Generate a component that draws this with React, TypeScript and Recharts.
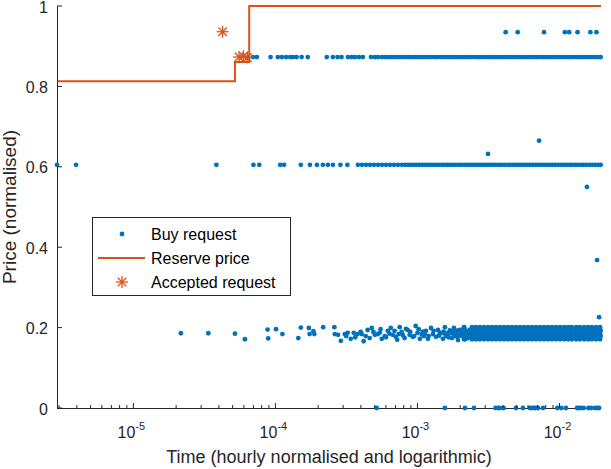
import React from "react";
import { ComposedChart, XAxis, YAxis, Scatter, Line, Legend } from "recharts";

const BLUE = "#0072BD";
const ORANGE = "#D95319";
const AXIS = "#262626";
const FONT = "'Liberation Sans', Arial, Helvetica, sans-serif";

const X_MIN = 2.9e-6;
const X_MAX = 1.96e-2;
const DECADES = [1e-5, 1e-4, 1e-3, 1e-2];
const X_TICKS = [
  3e-6, 4e-6, 5e-6, 6e-6, 7e-6, 8e-6, 9e-6,
  1e-5, 2e-5, 3e-5, 4e-5, 5e-5, 6e-5, 7e-5, 8e-5, 9e-5,
  1e-4, 2e-4, 3e-4, 4e-4, 5e-4, 6e-4, 7e-4, 8e-4, 9e-4,
  1e-3, 2e-3, 3e-3, 4e-3, 5e-3, 6e-3, 7e-3, 8e-3, 9e-3,
  1e-2,
];
const Y_TICKS = [0, 0.2, 0.4, 0.6, 0.8, 1];

// buy requests, grouped by price level
const TIMES_0935 = [4.18e-3, 5.08e-3, 7.78e-3, 1.09e-2, 1.17e-2, 1.34e-2, 1.65e-2, 1.82e-2];
const TIMES_0873 = [
  6.95e-5, 7.41e-5, 9.25e-5, 1.04e-4, 1.11e-4, 1.19e-4, 1.27e-4, 1.33e-4, 1.41e-4, 1.53e-4,
  1.69e-4, 2.3e-4, 2.54e-4, 2.74e-4, 2.92e-4, 3.24e-4, 3.44e-4, 3.63e-4, 3.87e-4, 4.13e-4,
  4.71e-4, 5.02e-4, 5.27e-4, 5.62e-4, 5.9e-4, 6.19e-4, 6.5e-4, 6.83e-4, 7.18e-4, 7.53e-4,
  7.91e-4, 8.3e-4, 8.71e-4, 9.14e-4, 9.6e-4, 1.0e-3, 1.05e-3, 1.1e-3, 1.15e-3, 1.2e-3,
  1.26e-3, 1.32e-3, 1.38e-3, 1.45e-3, 1.52e-3, 1.59e-3, 1.66e-3, 1.74e-3, 1.82e-3, 1.91e-3,
  2.0e-3, 2.09e-3, 2.19e-3, 2.29e-3, 2.4e-3, 2.51e-3, 2.63e-3, 2.75e-3, 2.88e-3, 3.02e-3,
  3.16e-3, 3.31e-3, 3.47e-3, 3.63e-3, 3.8e-3, 3.98e-3, 4.17e-3, 4.37e-3, 4.57e-3, 4.79e-3,
  5.01e-3, 5.25e-3, 5.5e-3, 5.75e-3, 6.03e-3, 6.31e-3, 6.61e-3, 6.92e-3, 7.24e-3, 7.59e-3,
  7.94e-3, 8.32e-3, 8.71e-3, 9.12e-3, 9.55e-3, 1.0e-2, 1.05e-2, 1.1e-2, 1.15e-2, 1.2e-2,
  1.26e-2, 1.32e-2, 1.38e-2, 1.45e-2, 1.51e-2, 1.58e-2, 1.66e-2, 1.74e-2, 1.82e-2, 1.9e-2,
  1.95e-2,
];
const TIMES_0605 = [
  2.9e-6, 3.95e-6, 3.84e-5, 7.0e-5, 7.7e-5, 1.08e-4, 1.15e-4, 1.51e-4, 1.75e-4, 1.96e-4,
  2.16e-4, 2.34e-4, 2.54e-4, 2.87e-4, 3.21e-4, 3.81e-4, 4.07e-4, 4.35e-4, 4.63e-4, 4.94e-4,
  5.28e-4, 5.64e-4, 6.01e-4, 6.41e-4, 6.84e-4, 7.3e-4, 7.78e-4, 8.2e-4, 8.6e-4, 9.0e-4,
  9.4e-4, 9.85e-4, 1.03e-3, 1.08e-3, 1.13e-3, 1.18e-3, 1.24e-3, 1.3e-3, 1.36e-3, 1.42e-3,
  1.49e-3, 1.56e-3, 1.63e-3, 1.71e-3, 1.79e-3, 1.87e-3, 1.96e-3, 2.05e-3, 2.15e-3, 2.25e-3,
  2.36e-3, 2.47e-3, 2.58e-3, 2.7e-3, 2.83e-3, 2.96e-3, 3.1e-3, 3.25e-3, 3.4e-3, 3.56e-3,
  3.73e-3, 3.9e-3, 4.09e-3, 4.28e-3, 4.48e-3, 4.69e-3, 4.91e-3, 5.14e-3, 5.38e-3, 5.64e-3,
  5.9e-3, 6.18e-3, 6.47e-3, 6.78e-3, 7.1e-3, 7.43e-3, 7.78e-3, 8.15e-3, 8.53e-3, 8.93e-3,
  9.35e-3, 9.8e-3, 1.03e-2, 1.07e-2, 1.12e-2, 1.18e-2, 1.23e-2, 1.29e-2, 1.35e-2, 1.42e-2,
  1.48e-2, 1.55e-2, 1.63e-2, 1.7e-2, 1.78e-2, 1.87e-2, 1.95e-2,
];
const TIMES_0 = [
  5.16e-4, 1.56e-3, 2.16e-3, 2.5e-3, 3.55e-3, 3.7e-3, 3.81e-3, 4.04e-3, 4.94e-3, 5.53e-3,
  6.2e-3, 6.36e-3, 6.61e-3, 6.8e-3, 7.06e-3, 7.66e-3, 9.66e-3, 1.03e-2, 1.11e-2, 1.33e-2,
  1.37e-2, 1.41e-2, 1.48e-2, 1.6e-2, 1.67e-2, 1.78e-2, 1.85e-2, 1.9e-2,
];
// low band around 0.18: [time, price]
const BAND_SPARSE = [
  [2.16e-5, 0.186], [3.37e-5, 0.186], [5.19e-5, 0.185], [6.1e-5, 0.171], [8.81e-5, 0.195],
  [8.9e-5, 0.173], [1.01e-4, 0.196], [1.12e-4, 0.184], [1.45e-4, 0.174], [1.51e-4, 0.2],
  [1.72e-4, 0.199], [1.74e-4, 0.184], [1.85e-4, 0.191], [1.88e-4, 0.184], [2.17e-4, 0.201],
  [2.6e-4, 0.201], [2.62e-4, 0.184], [2.76e-4, 0.182], [2.89e-4, 0.167], [3.08e-4, 0.184],
  [3.15e-4, 0.179], [3.23e-4, 0.187], [3.39e-4, 0.172], [3.56e-4, 0.187], [3.65e-4, 0.176],
  [3.79e-4, 0.184], [3.98e-4, 0.189], [4.05e-4, 0.184], [4.18e-4, 0.166], [4.32e-4, 0.179],
  [4.46e-4, 0.194], [4.61e-4, 0.174], [4.77e-4, 0.199], [4.9e-4, 0.189], [5.01e-4, 0.182],
  [5.26e-4, 0.184], [5.43e-4, 0.187], [5.5e-4, 0.196], [5.61e-4, 0.172], [5.89e-4, 0.179],
  [6.0e-4, 0.176], [6.18e-4, 0.192], [6.35e-4, 0.185], [6.49e-4, 0.199], [6.7e-4, 0.182],
  [6.9e-4, 0.192], [7.03e-4, 0.177], [7.2e-4, 0.17], [7.38e-4, 0.184], [7.5e-4, 0.201],
  [7.74e-4, 0.189], [7.9e-4, 0.181], [8.12e-4, 0.174], [8.3e-4, 0.197], [8.53e-4, 0.194],
  [8.81e-4, 0.182], [8.9e-4, 0.189], [9.25e-4, 0.177], [9.5e-4, 0.179], [9.71e-4, 0.204],
  [1.0e-3, 0.187], [1.02e-3, 0.196], [1.04e-3, 0.172], [1.07e-3, 0.183], [1.09e-3, 0.19],
];
const BAND_MID = [
  [1.111e-3, 0.179], [1.13e-3, 0.184], [1.147e-3, 0.192], [1.185e-3, 0.172], [1.2e-3, 0.179],
  [1.245e-3, 0.199], [1.286e-3, 0.184], [1.3e-3, 0.192], [1.35e-3, 0.177], [1.394e-3, 0.194],
  [1.42e-3, 0.18], [1.464e-3, 0.187], [1.512e-3, 0.172], [1.53e-3, 0.19], [1.562e-3, 0.201],
  [1.613e-3, 0.182], [1.66e-3, 0.176], [1.694e-3, 0.192], [1.75e-3, 0.174], [1.78e-3, 0.189],
  [1.807e-3, 0.199], [1.867e-3, 0.184], [1.9e-3, 0.177], [1.929e-3, 0.169], [1.992e-3, 0.194],
  [2.03e-3, 0.186], [2.058e-3, 0.179], [2.126e-3, 0.201], [2.16e-3, 0.171], [2.196e-3, 0.187],
  [2.268e-3, 0.174], [2.31e-3, 0.183], [2.343e-3, 0.194], [2.42e-3, 0.182], [2.47e-3, 0.191],
  [2.5e-3, 0.199], [2.583e-3, 0.172], [2.62e-3, 0.186], [2.625e-3, 0.189], [2.668e-3, 0.179],
];
// filled part of the band, one list of times per row of dots
const BAND_ROW_TIMES_A = [
  1.44e-3, 1.54e-3, 1.64e-3, 1.75e-3, 1.87e-3, 1.99e-3, 2.12e-3, 2.27e-3, 2.42e-3, 2.58e-3,
  2.75e-3, 2.94e-3, 3.14e-3, 3.35e-3, 3.57e-3, 3.81e-3, 4.07e-3, 4.34e-3, 4.63e-3, 4.94e-3,
  5.27e-3, 5.62e-3, 6.0e-3, 6.4e-3, 6.83e-3, 7.29e-3, 7.78e-3, 8.3e-3, 8.85e-3, 9.45e-3,
  1.01e-2, 1.08e-2, 1.15e-2, 1.22e-2, 1.31e-2, 1.39e-2, 1.49e-2, 1.59e-2, 1.69e-2, 1.81e-2,
  1.93e-2,
];
const BAND_ROW_TIMES_B = [
  1.69e-3, 1.81e-3, 1.93e-3, 2.06e-3, 2.19e-3, 2.34e-3, 2.5e-3, 2.67e-3,
  2.85e-3, 3.04e-3, 3.24e-3, 3.46e-3, 3.69e-3, 3.94e-3, 4.2e-3, 4.48e-3, 4.78e-3, 5.1e-3,
  5.44e-3, 5.81e-3, 6.2e-3, 6.61e-3, 7.06e-3, 7.53e-3, 8.04e-3, 8.57e-3, 9.15e-3, 9.76e-3,
  1.04e-2, 1.11e-2, 1.19e-2, 1.27e-2, 1.35e-2, 1.44e-2, 1.54e-2, 1.64e-2, 1.75e-2, 1.87e-2,
  1.95e-2,
];
const BAND_ROW_TIMES_C = [
  1.59e-3, 1.81e-3, 1.93e-3, 2.19e-3, 2.34e-3, 2.5e-3, 2.67e-3,
  2.85e-3, 3.04e-3, 3.24e-3, 3.46e-3, 3.69e-3, 3.94e-3, 4.2e-3, 4.48e-3, 4.78e-3, 5.1e-3,
  5.44e-3, 5.81e-3, 6.2e-3, 6.61e-3, 7.06e-3, 7.53e-3, 8.04e-3, 8.57e-3, 9.15e-3, 9.76e-3,
  1.04e-2, 1.11e-2, 1.19e-2, 1.27e-2, 1.35e-2, 1.44e-2, 1.54e-2, 1.64e-2, 1.75e-2, 1.87e-2,
  1.95e-2,
];
const BAND_EDGE_TIMES = [
  2.13e-3, 2.42e-3, 2.58e-3, 2.75e-3, 2.94e-3, 3.14e-3, 3.35e-3, 3.57e-3,
  3.81e-3, 4.07e-3, 4.34e-3, 4.63e-3, 4.94e-3, 5.27e-3, 5.62e-3, 6.0e-3, 6.4e-3, 6.83e-3,
  7.29e-3, 7.78e-3, 8.3e-3, 8.85e-3, 9.45e-3, 1.01e-2, 1.08e-2, 1.15e-2, 1.22e-2, 1.31e-2,
  1.39e-2, 1.49e-2, 1.59e-2, 1.69e-2, 1.81e-2, 1.93e-2,
];
const BUY_OUTLIERS = [[3.14e-3, 0.632], [7.18e-3, 0.665], [1.56e-2, 0.55], [1.84e-2, 0.368], [1.9e-2, 0.226]];

// reserve price steps and accepted requests
const RESERVE = [[2.9e-6, 0.813], [5.19e-5, 0.861], [6.54e-5, 1], [1.96e-2, 1]];
const ACCEPTED = [[4.25e-5, 0.936], [5.55e-5, 0.873], [5.95e-5, 0.875], [6.35e-5, 0.872]];

const level = (times: number[], p: number) => times.map((t) => ({ t, p }));
const pairs = (rows: number[][]) => rows.map(([t, p]) => ({ t, p }));

const buyData = [
  ...level(TIMES_0935, 0.935),
  ...level(TIMES_0873, 0.873),
  ...level(TIMES_0605, 0.605),
  ...level(TIMES_0, 0),
  ...pairs(BAND_SPARSE),
  ...pairs(BAND_MID),
  ...level(BAND_EDGE_TIMES, 0.201),
  ...level(BAND_ROW_TIMES_B, 0.193),
  ...level(BAND_ROW_TIMES_A, 0.186),
  ...level(BAND_ROW_TIMES_C, 0.179),
  ...level(BAND_EDGE_TIMES, 0.171),
  ...pairs(BUY_OUTLIERS),
];
const reserveData = pairs(RESERVE);
const acceptedData = pairs(ACCEPTED);

const BuyDot = (props: any) => <circle cx={props.cx} cy={props.cy} r={2.4} fill={BLUE} />;

function Star({ cx, cy, r = 6 }: { cx: number; cy: number; r?: number }) {
  const d = r * 0.7071;
  return (
    <g stroke={ORANGE} strokeWidth={1.3}>
      <line x1={cx - r} x2={cx + r} y1={cy} y2={cy} />
      <line x1={cx} x2={cx} y1={cy - r} y2={cy + r} />
      <line x1={cx - d} x2={cx + d} y1={cy - d} y2={cy + d} />
      <line x1={cx - d} x2={cx + d} y1={cy + d} y2={cy - d} />
    </g>
  );
}

const isDecade = (v: number) => DECADES.includes(v);

function BottomTick({ x, y, payload }: any) {
  const v = payload.value;
  return (
    <g>
      <line x1={x} x2={x} y1={y} y2={y - (isDecade(v) ? 5 : 3)} stroke={AXIS} />
      {isDecade(v) && (
        <text x={x - 2} y={y + 30} textAnchor="middle" fill={AXIS} fontSize={16} fontFamily={FONT}>
          10
          <tspan dy={-8} fontSize={11}>{Math.round(Math.log10(v))}</tspan>
        </text>
      )}
    </g>
  );
}

function TopTick({ x, y, payload }: any) {
  return <line x1={x} x2={x} y1={y} y2={y + (isDecade(payload.value) ? 5 : 3)} stroke={AXIS} />;
}

function LeftTick({ x, y, payload }: any) {
  return (
    <g>
      <line x1={x} x2={x + 5} y1={y} y2={y} stroke={AXIS} />
      <text x={x - 9} y={y} dy={6.5} textAnchor="end" fill={AXIS} fontSize={16} fontFamily={FONT}>
        {payload.value}
      </text>
    </g>
  );
}

function RightTick({ x, y }: any) {
  return <line x1={x} x2={x - 5} y1={y} y2={y} stroke={AXIS} />;
}

function YTitle({ viewBox }: any) {
  const cx = 16;
  const cy = viewBox ? viewBox.y + viewBox.height / 2 : 207;
  return (
    <text
      x={cx}
      y={cy}
      transform={`rotate(-90, ${cx}, ${cy})`}
      textAnchor="middle"
      fill={AXIS}
      fontSize={19}
      fontFamily={FONT}
    >
      Price (normalised)
    </text>
  );
}

function LegendBox() {
  const text = { fontSize: 16, fontFamily: FONT, fill: "#000" };
  return (
    <svg width={200} height={79}>
      <rect x={0.5} y={0.5} width={198} height={78} fill="#fff" stroke={AXIS} />
      <circle cx={30} cy={17} r={2.4} fill={BLUE} />
      <text x={59} y={23} {...text}>Buy request</text>
      <line x1={6} x2={53} y1={41} y2={41} stroke={ORANGE} strokeWidth={2} />
      <text x={59} y={47} {...text}>Reserve price</text>
      <Star cx={30} cy={65} />
      <text x={59} y={71} {...text}>Accepted request</text>
    </svg>
  );
}

const axisLine = { stroke: AXIS, shapeRendering: "crispEdges" };

export default function App() {
  return (
    <div style={{ position: "absolute", left: 0, top: 0, width: 611, height: 469, background: "#fff" }}>
      <ComposedChart width={611} height={469} margin={{ top: 6, right: 10, bottom: 0, left: 0 }}>
        <XAxis
          type="number"
          dataKey="t"
          scale="log"
          domain={[X_MIN, X_MAX]}
          ticks={X_TICKS}
          interval={0}
          tickSize={0}
          tickMargin={0}
          tickLine={false}
          tick={BottomTick}
          axisLine={axisLine}
          height={61}
          label={{ value: "Time (hourly normalised and logarithmic)", position: "insideBottom", offset: 6, fill: AXIS, fontSize: 18, fontFamily: FONT }}
        />
        <XAxis
          xAxisId="top"
          orientation="top"
          type="number"
          dataKey="t"
          scale="log"
          domain={[X_MIN, X_MAX]}
          ticks={X_TICKS}
          interval={0}
          tickSize={0}
          tickMargin={0}
          tickLine={false}
          tick={TopTick}
          axisLine={axisLine}
          height={0}
        />
        <YAxis
          type="number"
          dataKey="p"
          domain={[0, 1]}
          ticks={Y_TICKS}
          interval={0}
          tickSize={0}
          tickMargin={0}
          tickLine={false}
          tick={LeftTick}
          axisLine={axisLine}
          width={57}
          label={(props: any) => <YTitle {...props} />}
        />
        <YAxis
          yAxisId="right"
          orientation="right"
          type="number"
          dataKey="p"
          domain={[0, 1]}
          ticks={Y_TICKS}
          interval={0}
          tickSize={0}
          tickMargin={0}
          tickLine={false}
          tick={RightTick}
          axisLine={axisLine}
          width={0}
        />
        <Scatter name="Buy request" data={buyData} shape={BuyDot} isAnimationActive={false} />
        <Line
          name="Reserve price"
          data={reserveData}
          dataKey="p"
          type="stepAfter"
          stroke={ORANGE}
          strokeWidth={2}
          dot={false}
          activeDot={false}
          isAnimationActive={false}
        />
        <Scatter
          name="Accepted request"
          data={acceptedData}
          shape={(props: any) => <Star cx={props.cx} cy={props.cy} />}
          isAnimationActive={false}
        />
        <Legend
          layout="vertical"
          align="center"
          verticalAlign="middle"
          content={() => <LegendBox />}
          wrapperStyle={{ left: 92, top: 217, width: 200, height: 79 }}
        />
      </ComposedChart>
    </div>
  );
}
